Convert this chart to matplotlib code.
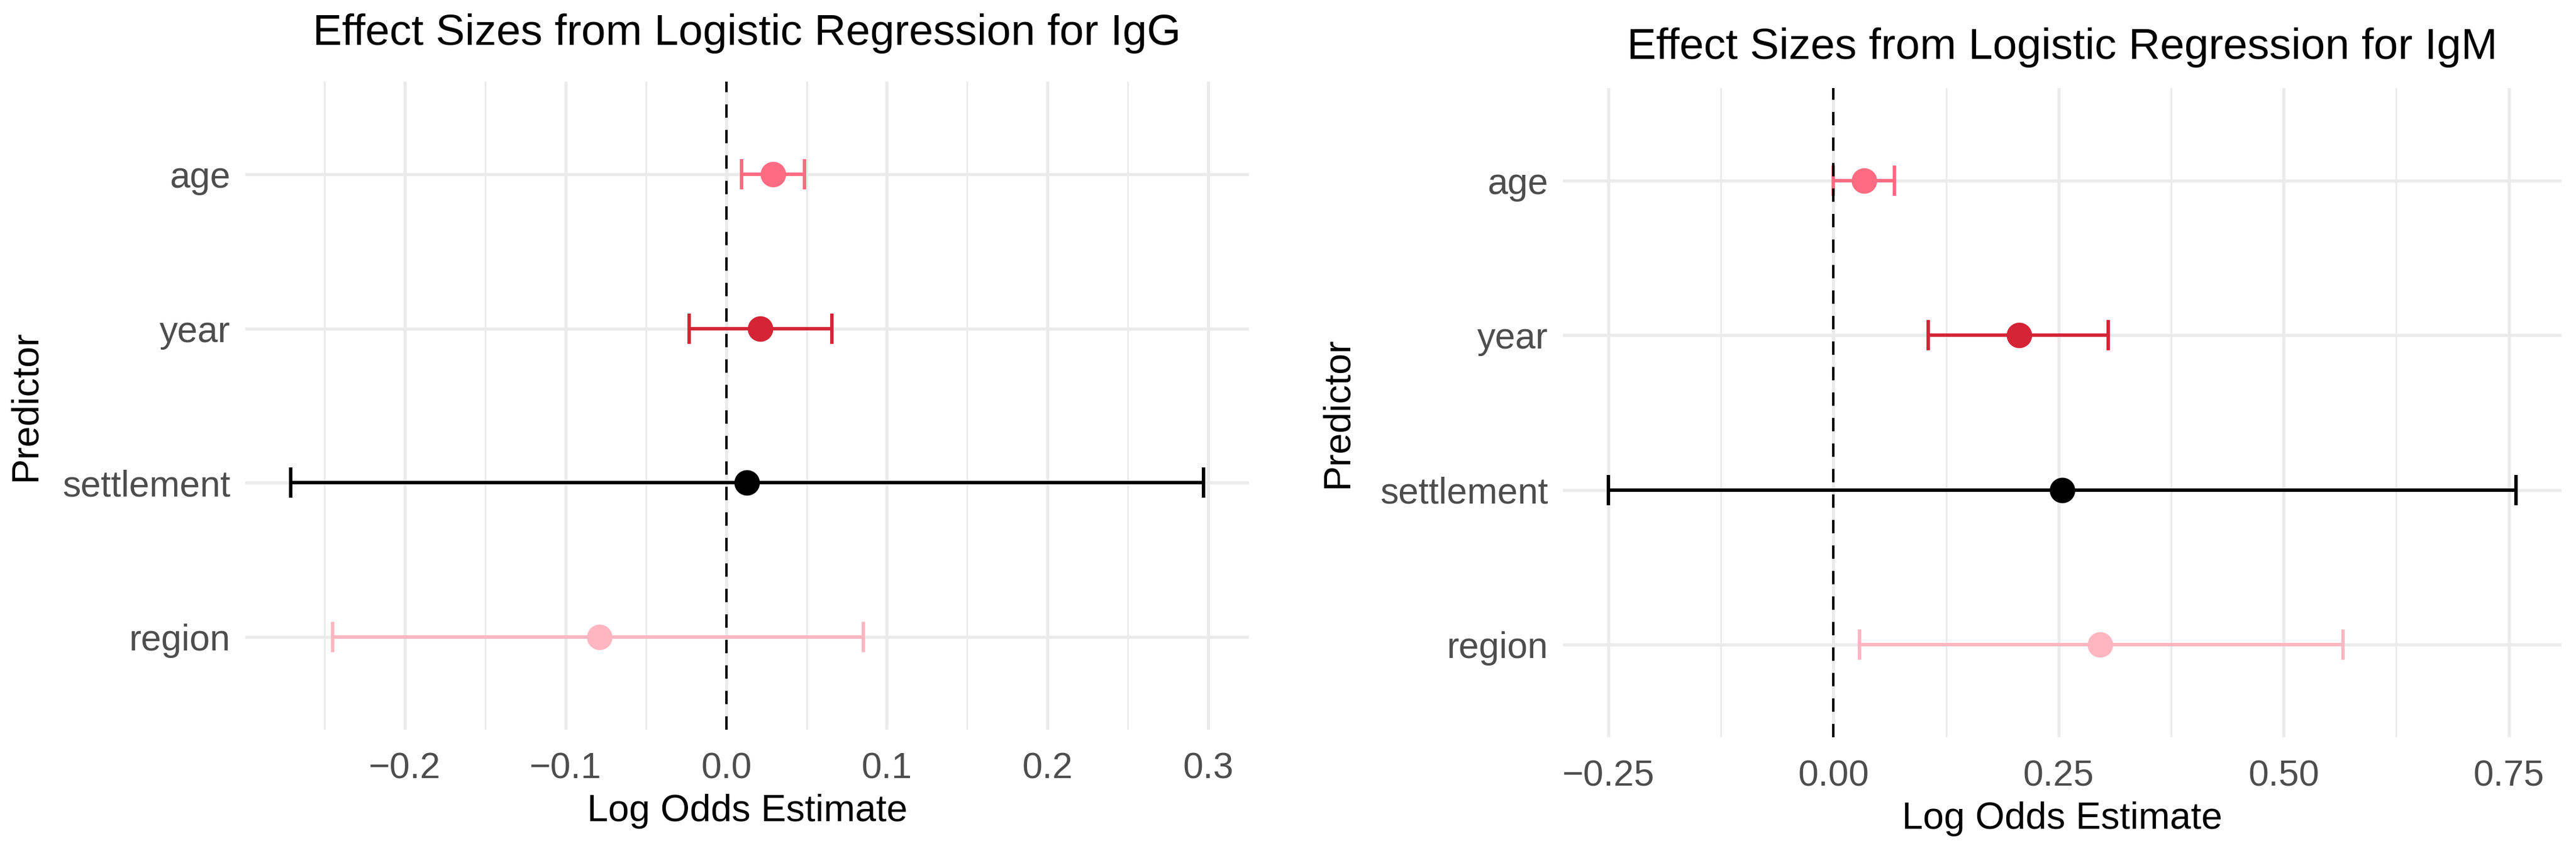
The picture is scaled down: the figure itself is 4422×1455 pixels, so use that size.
import matplotlib
matplotlib.use("Agg")
import matplotlib.pyplot as plt
import numpy as np
from matplotlib.ticker import MultipleLocator

plt.rcParams["font.family"] = ["Liberation Sans", "DejaVu Sans"]

# ---------------------------------------------------------------------
# Data
# ---------------------------------------------------------------------
PREDICTORS = ["region", "settlement", "year", "age"]   # bottom -> top
COLORS = ["#FFB6C1", "#000000", "#D42435", "#FF6B81"]

IGG_EST = [-0.079, 0.013, 0.021, 0.029]
IGG_LO = [-0.245, -0.271, -0.023, 0.0095]
IGG_HI = [0.0855, 0.297, 0.0656, 0.0486]

IGM_EST = [0.296, 0.254, 0.206, 0.034]
IGM_LO = [0.029, -0.250, 0.105, 0.0]
IGM_HI = [0.566, 0.758, 0.305, 0.0676]

# name, estimates, lower, upper, tick step, axes rect, title y, ylabel x
PANELS = [
    ("IgG", IGG_EST, IGG_LO, IGG_HI, 0.1,
     [421 / 4422, 1 - 1252 / 1455, 1723 / 4422, 1112 / 1455], 1.074, -0.201),
    ("IgM", IGM_EST, IGM_LO, IGM_HI, 0.25,
     [2683 / 4422, 1 - 1265 / 1455, 1714 / 4422, 1114 / 1455], 1.062, -0.208),
]

GRID = "#EBEBEB"
TXT = "#4D4D4D"


def draw_panel(ax, name, est, lo, hi, step, title_y, ylab_x):
    y = np.arange(len(PREDICTORS))
    est = np.asarray(est)
    lo = np.asarray(lo)
    hi = np.asarray(hi)

    for i in range(len(PREDICTORS)):
        ax.errorbar(
            est[i], y[i], xerr=[[est[i] - lo[i]], [hi[i] - est[i]]],
            fmt="o", color=COLORS[i], ecolor=COLORS[i], markersize=9.5,
            elinewidth=1.4, capsize=6.3, capthick=1.4, zorder=3,
        )
    ax.axvline(0, color="black", linestyle=(0, (5.5, 5)), linewidth=1.0, zorder=4)

    # ggplot-like 5% expansion
    xmin, xmax = lo.min(), hi.max()
    pad = 0.05 * (xmax - xmin)
    ax.set_xlim(xmin - pad, xmax + pad)
    ax.set_ylim(-0.6, len(PREDICTORS) - 0.4)

    ax.xaxis.set_major_locator(MultipleLocator(step))
    ax.xaxis.set_minor_locator(MultipleLocator(step / 2))
    fmt = "{:.1f}" if step == 0.1 else "{:.2f}"
    ax.xaxis.set_major_formatter(lambda v, p: fmt.format(v).replace("-", "\u2212"))
    ax.set_yticks(y)
    ax.set_yticklabels(PREDICTORS)

    ax.grid(which="major", axis="both", color=GRID, linewidth=1.3, zorder=0)
    ax.grid(which="minor", axis="x", color=GRID, linewidth=0.7, zorder=0)
    ax.set_axisbelow(True)
    for s in ax.spines.values():
        s.set_visible(False)
    ax.tick_params(which="both", length=0)
    ax.tick_params(axis="x", labelsize=15, labelcolor=TXT, pad=9)
    ax.tick_params(axis="y", labelsize=15, labelcolor=TXT, pad=6)

    ax.set_xlabel("Log Odds Estimate", fontsize=15.5)
    ax.xaxis.set_label_coords(0.5, -0.099)
    ax.set_ylabel("Predictor", fontsize=15.5)
    ax.yaxis.set_label_coords(ylab_x, 0.5)
    ax.set_title(f"Effect Sizes from Logistic Regression for {name}",
                 fontsize=18, y=title_y, va="center", pad=0)


fig = plt.figure(figsize=(4422 / 300, 1455 / 300), dpi=300)
for name, est, lo, hi, step, rect, title_y, ylab_x in PANELS:
    ax = fig.add_axes(rect)
    draw_panel(ax, name, est, lo, hi, step, title_y, ylab_x)

fig.savefig("out.png", dpi=300, facecolor="white")
